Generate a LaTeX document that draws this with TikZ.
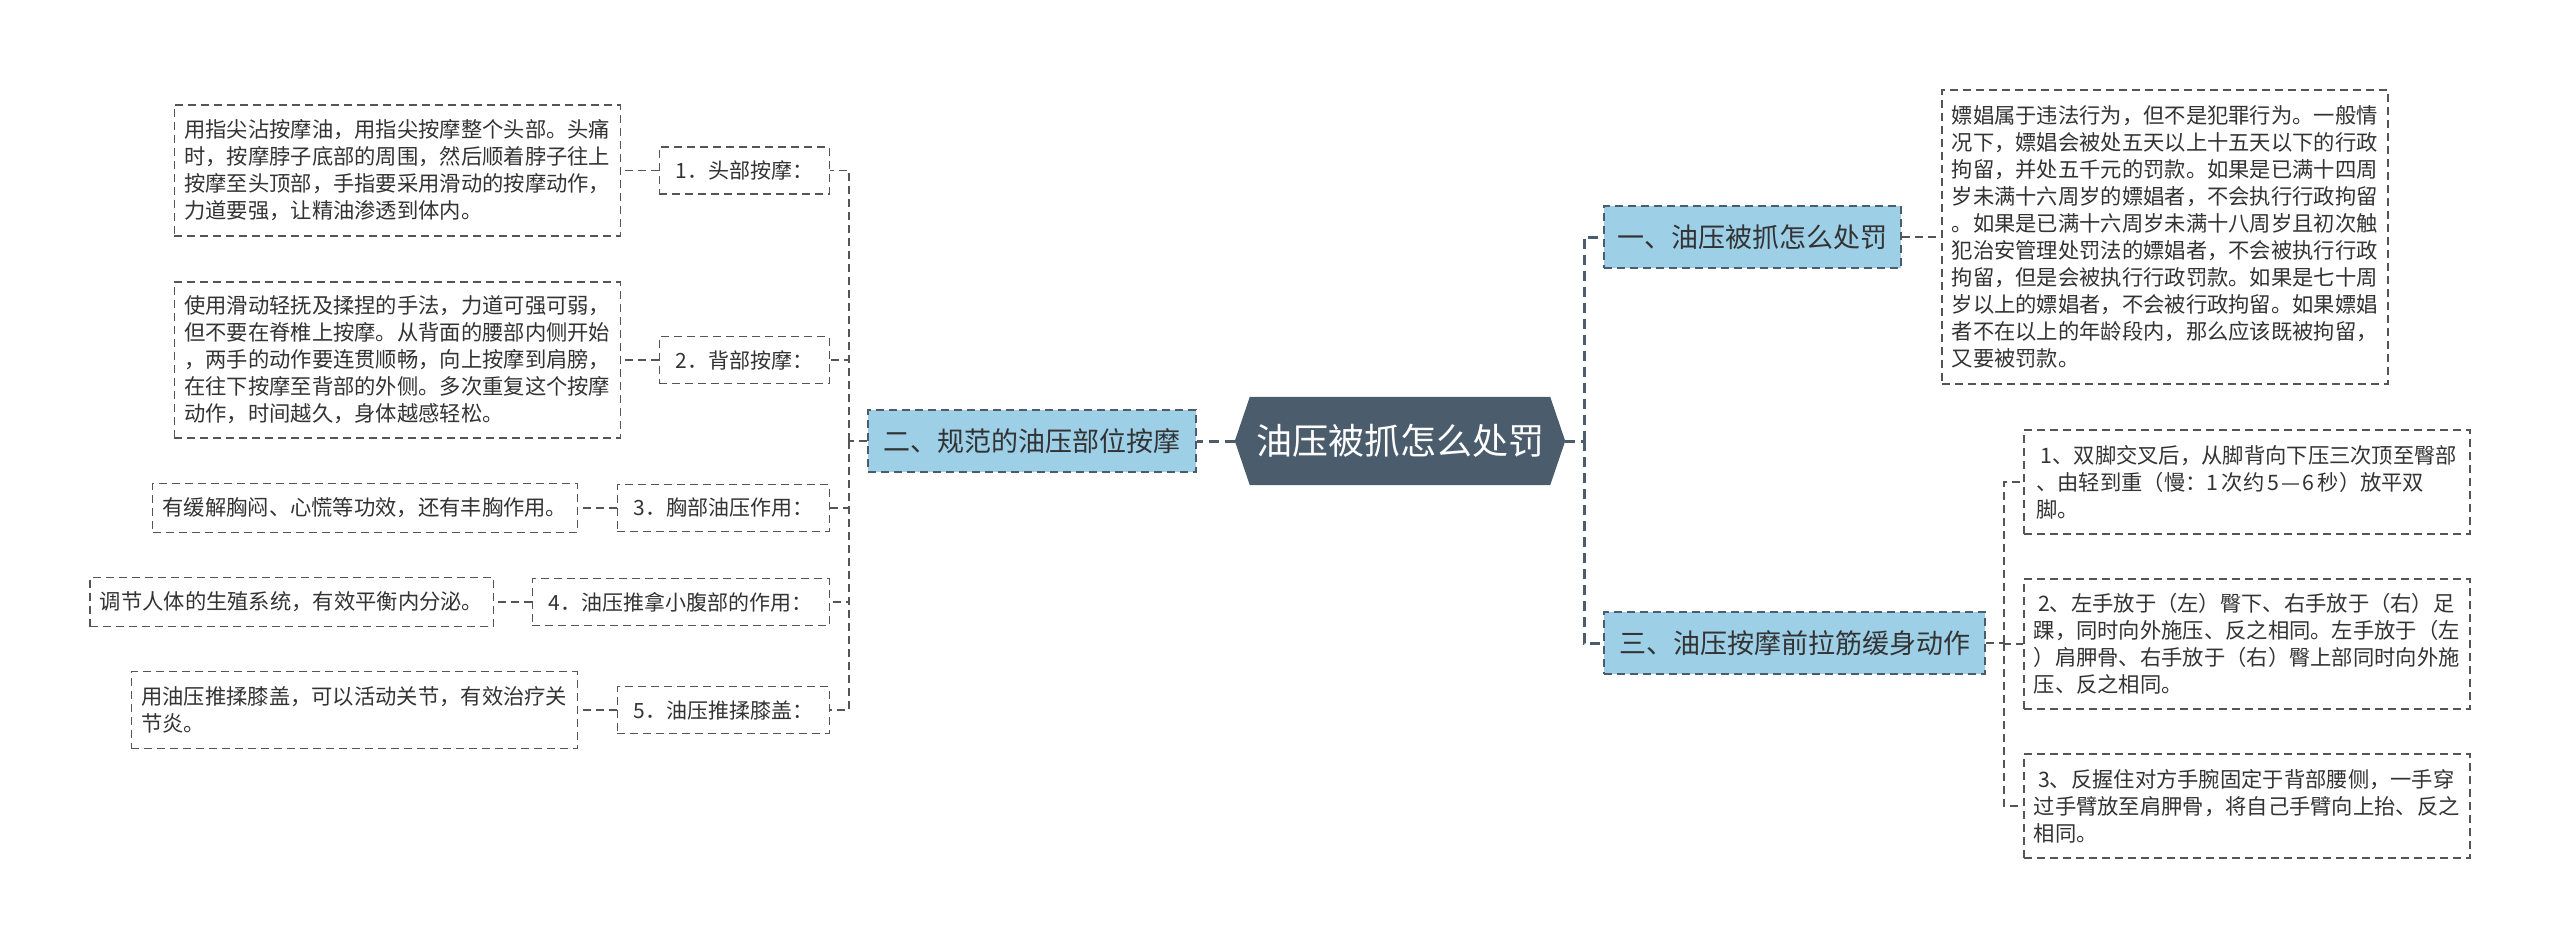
\documentclass[tikz,border=0pt]{standalone}
\usepackage{fontspec}
\setmainfont{Noto Sans CJK SC}
\usetikzlibrary{calc}
\definecolor{hexc}{HTML}{4B5C6C}
\definecolor{brfill}{HTML}{9DCFE7}
\definecolor{lnc}{HTML}{555555}
\definecolor{txt}{HTML}{333333}
\begin{document}
\begin{tikzpicture}[x=1pt,y=-1pt,
  spine/.style={draw=hexc, line width=3pt, dash pattern=on 10pt off 6pt},
  twig/.style={draw=lnc, line width=1.5pt, dash pattern=on 8pt off 5pt},
  branchbox/.style={draw=hexc, fill=brfill, line width=2pt, dash pattern=on 8pt off 5pt,
    font=\fontsize{27}{32}\selectfont, text=txt, minimum height=62pt, inner xsep=10pt},
  subbox/.style={draw=lnc, line width=1.5pt, dash pattern=on 8pt off 5pt,
    font=\fontsize{21}{27}\selectfont, text=txt, minimum height=47pt, inner xsep=10pt},
  leafbox/.style={draw=lnc, line width=1.5pt, dash pattern=on 8pt off 5pt,
    font=\fontsize{21.3}{27}\selectfont, text=txt, align=left, inner xsep=10pt, inner ysep=12pt},
]
\fill[white] (0,0) rectangle (2560,948);
\useasboundingbox (0,0) rectangle (2560,948);

% central node
\node[minimum width=330pt, minimum height=88pt, inner sep=0pt] (c) at (1400,441) {};
\fill[hexc] (c.west) -- ([xshift=15pt]c.north west) -- ([xshift=-15pt]c.north east) -- (c.east)
  -- ([xshift=-15pt]c.south east) -- ([xshift=15pt]c.south west) -- cycle;
\node[font=\fontsize{36}{40}\selectfont, text=white] (ct) at (c) {油压被抓怎么处罚};

% branches
\node[branchbox, minimum width=328pt, anchor=east] (L) at (1197,441) {二、规范的油压部位按摩};
\node[branchbox, minimum width=297pt, anchor=west] (R1) at (1603,237) {一、油压被抓怎么处罚};
\node[branchbox, minimum width=381pt, anchor=west] (R3) at (1603,643) {三、油压按摩前拉筋缓身动作};

% left sub nodes
\node[subbox, minimum width=170pt, anchor=east] (A1) at (830,170.5) {1．头部按摩：};
\node[subbox, minimum width=170pt, anchor=east] (A2) at (830,360) {2．背部按摩：};
\node[subbox, minimum width=212pt, anchor=east] (A3) at (830,508) {3．胸部油压作用：};
\node[subbox, minimum width=297pt, anchor=east] (A4) at (830,602) {4．油压推拿小腹部的作用：};
\node[subbox, minimum width=212pt, anchor=east] (A5) at (830,710) {5．油压推揉膝盖：};

% left leaves
\node[leafbox, minimum height=131pt, anchor=east] (l1) at (621,170.5) {用指尖沾按摩油，用指尖按摩整个头部。头痛\\时，按摩脖子底部的周围，然后顺着脖子往上\\按摩至头顶部，手指要采用滑动的按摩动作，\\力道要强，让精油渗透到体内。};
\node[leafbox, minimum height=156pt, anchor=east] (l2) at (621,360) {使用滑动轻抚及揉捏的手法，力道可强可弱，\\但不要在脊椎上按摩。从背面的腰部内侧开始\\，两手的动作要连贯顺畅，向上按摩到肩膀，\\在往下按摩至背部的外侧。多次重复这个按摩\\动作，时间越久，身体越感轻松。};
\node[leafbox, minimum height=49pt, anchor=east] (l3) at (578,508) {有缓解胸闷、心慌等功效，还有丰胸作用。};
\node[leafbox, minimum height=49pt, anchor=east] (l4) at (494,602) {调节人体的生殖系统，有效平衡内分泌。};
\node[leafbox, minimum height=77pt, anchor=east] (l5) at (578,710) {用油压推揉膝盖，可以活动关节，有效治疗关\\节炎。};

% right leaves
\node[leafbox, minimum height=294pt, anchor=west] (Y) at (1941,237) {嫖娼属于违法行为，但不是犯罪行为。一般情\\况下，嫖娼会被处五天以上十五天以下的行政\\拘留，并处五千元的罚款。如果是已满十四周\\岁未满十六周岁的嫖娼者，不会执行行政拘留\\。如果是已满十六周岁未满十八周岁且初次触\\犯治安管理处罚法的嫖娼者，不会被执行行政\\拘留，但是会被执行行政罚款。如果是七十周\\岁以上的嫖娼者，不会被行政拘留。如果嫖娼\\者不在以上的年龄段内，那么应该既被拘留，\\又要被罚款。};
\node[leafbox, minimum width=446pt, minimum height=104pt, anchor=west] (Z1) at (2023,482) {\hspace{0.2em}1、双脚交叉后，从脚背向下压三次顶至臀部\\、由轻到重（慢：1\hspace{0.15em}次约\hspace{0.15em}5\hspace{0.1em}—\hspace{0.1em}6\hspace{0.15em}秒）放平双\\脚。};
\node[leafbox, minimum width=446pt, minimum height=130pt, anchor=west] (Z2) at (2023,644) {\hspace{0.2em}2、左手放于（左）臀下、右手放于（右）足\\踝，同时向外施压、反之相同。左手放于（左\\）肩胛骨、右手放于（右）臀上部同时向外施\\压、反之相同。};
\node[leafbox, minimum width=446pt, minimum height=104pt, anchor=west] (Z3) at (2023,806) {\hspace{0.2em}3、反握住对方手腕固定于背部腰侧，一手穿\\过手臂放至肩胛骨，将自己手臂向上抬、反之\\相同。};

% level-1 connectors
\draw[spine] (c.west) -- (L.east);
\coordinate (sr) at (1584,441);
\draw[spine] (c.east) -- (sr);
\draw[spine] (sr) |- (R1.west);
\draw[spine] (sr) |- (R3.west);

% left connectors
\coordinate (sl) at (849,441);
\draw[twig] (L.west) -- (sl);
\foreach \n in {A1,A2,A3,A4,A5} { \draw[twig] (sl) |- (\n.east); }
\draw[twig] (A1.west) -- (l1.east);
\draw[twig] (A2.west) -- (l2.east);
\draw[twig] (A3.west) -- (l3.east);
\draw[twig] (A4.west) -- (l4.east);
\draw[twig] (A5.west) -- (l5.east);

% right connectors
\draw[twig] (R1.east) -- (Y.west);
\coordinate (sz) at (2004,643);
\draw[twig] (R3.east) -- (sz);
\foreach \n in {Z1,Z2,Z3} { \draw[twig] (sz) |- (\n.west); }
\end{tikzpicture}
\end{document}
